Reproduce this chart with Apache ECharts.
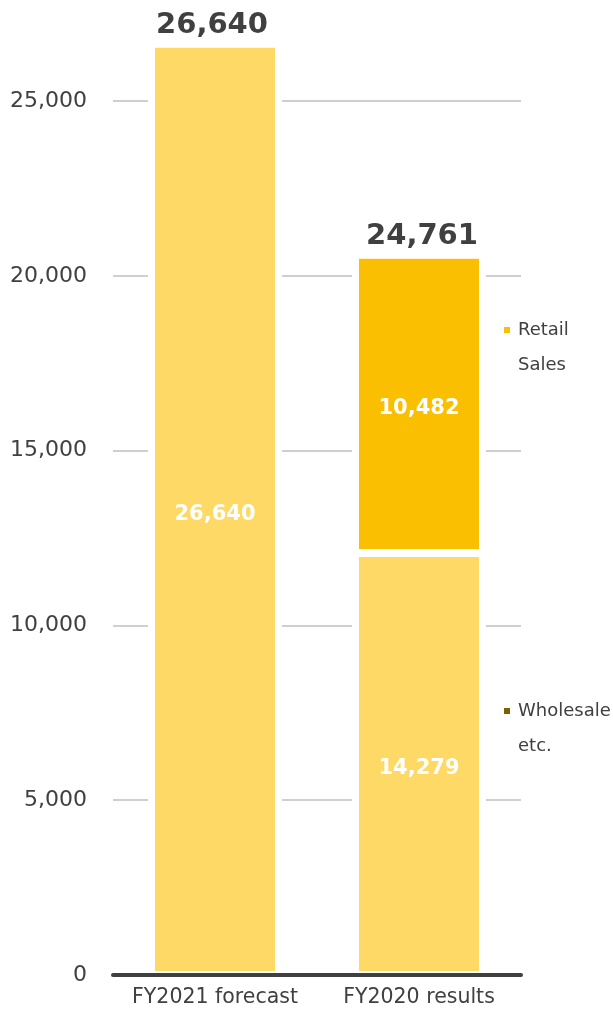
<!DOCTYPE html>
<html><head><meta charset="utf-8">
<script src="https://cdn.jsdelivr.net/npm/echarts@6/dist/echarts.min.js"></script>
<style>html,body{margin:0;padding:0;background:#fff}#c{width:613px;height:1009px}</style>
</head><body><div id="c"></div>
<script>
const categories = ['FY2021 forecast', 'FY2020 results'];
const wholesaleValues = [26640, 12070];
const retailValues = ['-', 8530];
const wholesaleLabels = ['26,640', '14,279'];
const retailLabels = ['', '10,482'];
const totalLabels = ['26,640', '24,761'];
const totalHeights = [26640, 20600];
const seriesNames = ['Wholesale etc.', 'Retail Sales'];
const legendLabels = { 'Wholesale etc.': ['Wholesale', 'etc.'], 'Retail Sales': ['Retail', 'Sales'] };
const yTickLabels = { 0: '0', 5000: '5,000', 10000: '10,000', 15000: '15,000', 20000: '20,000', 25000: '25,000' };

const FONT = 'DejaVu Sans';
const LIGHT = '#FFD966', GOLD = '#FABF00', DARK = '#7F6000', TXT = '#404040';

const chart = echarts.init(document.getElementById('c'), null, { renderer: 'canvas' });
const legendCommon = {
  orient: 'vertical', padding: 0, itemWidth: 8, itemHeight: 8, icon: 'rect',
  selectedMode: false,
  // blank first line keeps the first text line level with the marker
  formatter: n => ' \n' + legendLabels[n].join('\n'),
  textStyle: { fontFamily: FONT, fontSize: 18, lineHeight: 35, color: TXT, padding: [0, 0, 0, 2] }
};
const topLabelShift = [-3, 3];
chart.setOption({
  animation: false,
  backgroundColor: '#fff',
  textStyle: { fontFamily: FONT },
  grid: { left: 113, right: 92, top: 101, bottom: 34 },
  legend: [
    Object.assign({}, legendCommon, { left: 502, top: 277.5, data: [{ name: seriesNames[1], itemStyle: { color: GOLD } }] }),
    Object.assign({}, legendCommon, { left: 502, top: 658.5, data: [{ name: seriesNames[0], itemStyle: { color: DARK } }] })
  ],
  xAxis: {
    type: 'category', data: categories, z: 10,
    axisLine: { lineStyle: { color: TXT, width: 4 } },
    axisTick: { show: false },
    axisLabel: { interval: 0, fontFamily: FONT, fontSize: 20.5, color: TXT, margin: 12 }
  },
  yAxis: {
    type: 'value', min: 0, max: 25000, interval: 5000,
    axisLine: { show: false }, axisTick: { show: false },
    splitLine: { lineStyle: { color: '#BFBFBF', width: 1.5 } },
    axisLabel: { fontFamily: FONT, fontSize: 22, color: TXT, margin: 26, formatter: v => yTickLabels[v] }
  },
  series: [
    {
      type: 'custom', z: 1, silent: true,
      data: totalHeights.map((v, i) => [i, v]),
      renderItem: (params, api) => {
        const top = api.coord([api.value(0), api.value(1)]);
        const bot = api.coord([api.value(0), 0]);
        const w = 134;
        return { type: 'rect', shape: { x: top[0] - w / 2, y: top[1], width: w, height: bot[1] - top[1] }, style: { fill: '#fff' } };
      }
    },
    {
      name: seriesNames[0], type: 'bar', stack: 'a', barWidth: 128, clip: false, z: 2,
      data: wholesaleValues,
      itemStyle: { color: LIGHT, borderColor: '#fff', borderWidth: 4 },
      label: { show: true, position: 'inside', offset: [0, 5], color: '#fff', fontFamily: FONT, fontWeight: 'bold', fontSize: 21,
        formatter: p => wholesaleLabels[p.dataIndex] }
    },
    {
      name: seriesNames[1], type: 'bar', stack: 'a', barWidth: 128, clip: false, z: 2,
      data: retailValues,
      itemStyle: { color: GOLD, borderColor: '#fff', borderWidth: 4 },
      label: { show: true, position: 'inside', offset: [0, 5], color: '#fff', fontFamily: FONT, fontWeight: 'bold', fontSize: 21,
        formatter: p => retailLabels[p.dataIndex] }
    },
    {
      name: 'total', type: 'bar', stack: 'a', barWidth: 128, clip: false, z: 3, silent: true,
      data: totalLabels.map((t, i) => ({ value: 0, label: { offset: [topLabelShift[i], 0] } })),
      itemStyle: { color: 'rgba(0,0,0,0)' },
      label: { show: true, position: 'top', distance: 4, color: TXT, fontFamily: FONT, fontWeight: 'bold', fontSize: 29, lineHeight: 29,
        formatter: p => totalLabels[p.dataIndex] }
    }
  ]
});
</script></body></html>
